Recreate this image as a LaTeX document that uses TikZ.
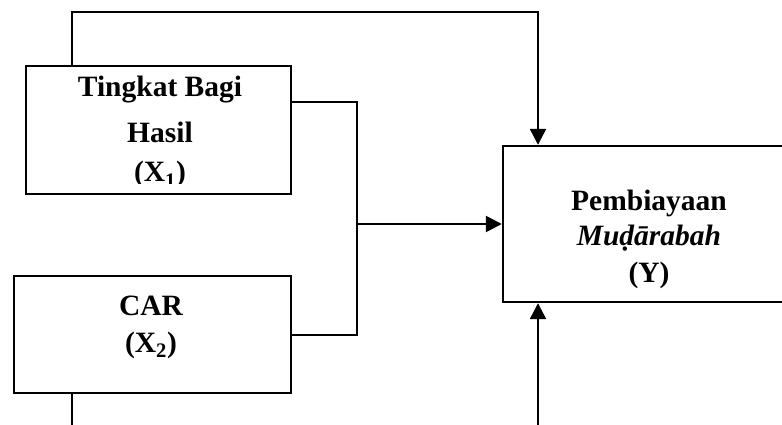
\documentclass[tikz,border=0pt]{standalone}
\usepackage{fontspec}
\setmainfont{Liberation Serif}
\usetikzlibrary{arrows.meta}
\begin{document}
\begin{tikzpicture}[x=1pt,y=-1pt,
  box/.style={draw, line width=2.4pt, rectangle, inner sep=0pt},
  lbl/.style={anchor=base, inner sep=0pt, font=\fontsize{29.5}{34}\selectfont\bfseries},
  conn/.style={line width=2.5pt},
  arr/.style={conn, -{Triangle[length=16pt,width=16pt]}}]
\useasboundingbox (0,0) rectangle (782,425);
\clip (0,0) rectangle (782,425);
% boxes
\node[box, minimum width=265pt, minimum height=128pt] (b1) at (158.5,130) {};
\node[box, minimum width=277pt, minimum height=117pt] (b2) at (152.5,334.5) {};
\node[box, minimum width=292pt, minimum height=156pt] (by) at (649,224) {};
% labels
\begin{scope}
\clip (26,66) rectangle (291,184);
\node[lbl] (t1a) at (160,97) {Tingkat Bagi};
\node[lbl] (t1b) at (160,143) {Hasil};
\node[lbl] (t1c) at (160,182) {(X\textsubscript{1})};
\end{scope}
\node[lbl] (t2a) at (151,315) {CAR};
\node[lbl] (t2b) at (151,352) {(X\textsubscript{2})};
\node[lbl] (tya) at (649,210) {Pembiayaan};
\node[lbl] (tyb) at (649,245) {\itshape Muḍārabah};
\node[lbl] (tyc) at (649,282) {(Y)};
% connector coordinates
\coordinate (c1) at (72,12);
\coordinate (c2) at (538,12);
\coordinate (j1) at (357,102);
\coordinate (j2) at (357,335);
\coordinate (j3) at (357,224);
\coordinate (c3) at (72,430);
\coordinate (c4) at (538,430);
% connectors
\draw[arr] (b1.north -| c1) -- (c1) -- (c2) -- (by.north -| c2);
\draw[conn] (b1.east |- j1) -- (j1) -- (j2) -- (b2.east |- j2);
\draw[arr] (j3) -- (by.west |- j3);
\draw[conn] (b2.south -| c3) -- (c3);
\draw[arr] (c4) -- (by.south -| c4);
\end{tikzpicture}
\end{document}
